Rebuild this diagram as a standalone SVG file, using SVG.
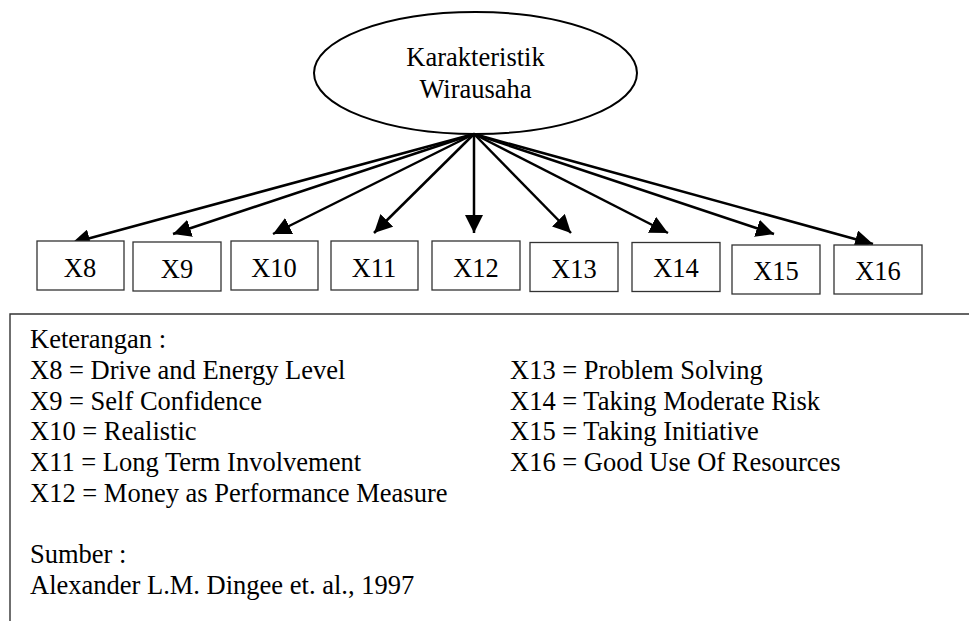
<svg xmlns="http://www.w3.org/2000/svg" width="969" height="621" viewBox="0 0 969 621">
  <style>
    text { font-family: "Liberation Serif", "Times New Roman", serif; fill: #000; font-size: 26.5px; }
    .mid { text-anchor: middle; }
    .box { fill: #fff; stroke: #333; stroke-width: 1.3; }
    .conn { stroke: #000; stroke-width: 2.5; fill: none; marker-end: url(#head); }
    .frame { fill: none; stroke: #333; stroke-width: 1.4; }
  </style>
  <defs>
    <marker id="head" markerUnits="userSpaceOnUse" markerWidth="18" markerHeight="18" viewBox="0 0 16 16" refX="16" refY="8" orient="auto">
      <path d="M0,0 L16,8 L0,16 Z" fill="#000"/>
    </marker>
  </defs>

  <rect width="969" height="621" fill="#fff"/>

  <!-- latent construct -->
  <g id="karakteristik">
    <ellipse cx="475.5" cy="73" rx="161.5" ry="61" fill="#fff" stroke="#000" stroke-width="2"/>
    <text class="mid" x="475.5" y="66">Karakteristik</text>
    <text class="mid" x="475.5" y="98">Wirausaha</text>
  </g>

  <!-- loadings from the construct to each indicator -->
  <g id="connectors">
    <line class="conn" x1="474" y1="134" x2="72" y2="243"/>
    <line class="conn" x1="474" y1="134" x2="173" y2="234"/>
    <line class="conn" x1="474" y1="134" x2="273" y2="234"/>
    <line class="conn" x1="474" y1="134" x2="374" y2="233"/>
    <line class="conn" x1="474" y1="134" x2="474" y2="233"/>
    <line class="conn" x1="474" y1="134" x2="571" y2="233"/>
    <line class="conn" x1="474" y1="134" x2="668" y2="233"/>
    <line class="conn" x1="474" y1="134" x2="774" y2="234"/>
    <line class="conn" x1="474" y1="134" x2="873" y2="244"/>
  </g>

  <!-- indicators -->
  <g id="x8"><rect class="box" x="37" y="241" width="87" height="49"/><text class="mid" x="80" y="277">X8</text></g>
  <g id="x9"><rect class="box" x="133" y="242" width="88" height="49"/><text class="mid" x="177" y="278">X9</text></g>
  <g id="x10"><rect class="box" x="231" y="241" width="87" height="49"/><text class="mid" x="274" y="277">X10</text></g>
  <g id="x11"><rect class="box" x="331" y="241" width="87" height="49"/><text class="mid" x="374" y="277">X11</text></g>
  <g id="x12"><rect class="box" x="432" y="241" width="88" height="49"/><text class="mid" x="476" y="277">X12</text></g>
  <g id="x13"><rect class="box" x="530" y="242.5" width="88" height="49"/><text class="mid" x="574" y="278">X13</text></g>
  <g id="x14"><rect class="box" x="632" y="242.5" width="88" height="49"/><text class="mid" x="676" y="277">X14</text></g>
  <g id="x15"><rect class="box" x="732" y="245" width="88" height="49"/><text class="mid" x="776" y="280">X15</text></g>
  <g id="x16"><rect class="box" x="834" y="245" width="88" height="49"/><text class="mid" x="878" y="280">X16</text></g>

  <!-- legend panel -->
  <g id="keterangan">
    <path class="frame" d="M10,621 V314 H969"/>
    <text x="30" y="348">Keterangan :</text>
    <text x="30" y="379">X8 = Drive and Energy Level</text>
    <text x="30" y="410">X9 = Self Confidence</text>
    <text x="30" y="440">X10 = Realistic</text>
    <text x="30" y="471">X11 = Long Term Involvement</text>
    <text x="30" y="502">X12 = Money as Performance Measure</text>
    <text x="510" y="379">X13 = Problem Solving</text>
    <text x="510" y="410">X14 = Taking Moderate Risk</text>
    <text x="510" y="440">X15 = Taking Initiative</text>
    <text x="510" y="471">X16 = Good Use Of Resources</text>
    <text x="30" y="563">Sumber :</text>
    <text x="30" y="594">Alexander L.M. Dingee et. al., 1997</text>
  </g>
</svg>
